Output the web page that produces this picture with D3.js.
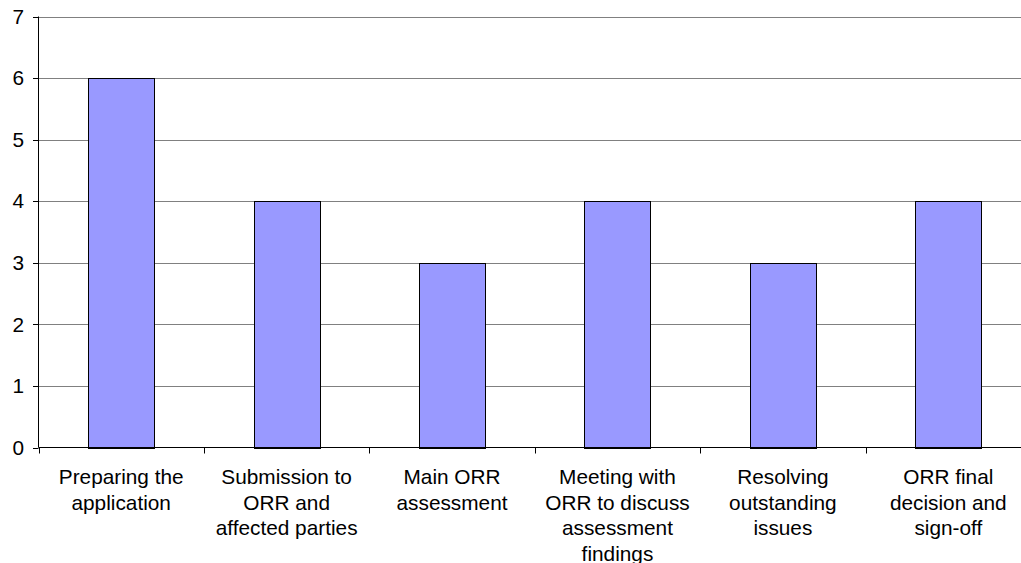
<!DOCTYPE html>
<html>
<head>
<meta charset="utf-8">
<script src="https://cdn.jsdelivr.net/npm/d3@7"></script>
<style>
  html, body { margin: 0; padding: 0; background: #fff; }
  svg { display: block; }
  text { font-family: "Liberation Sans", Arial, sans-serif; fill: #000; }
</style>
</head>
<body>
<svg id="chart" width="1021" height="563"></svg>
<script>
const categories = [
  "Preparing the application",
  "Submission to ORR and affected parties",
  "Main ORR assessment",
  "Meeting with ORR to discuss assessment findings",
  "Resolving outstanding issues",
  "ORR final decision and sign-off"
];
const labelLines = [
  ["Preparing the", "application"],
  ["Submission to", "ORR and", "affected parties"],
  ["Main ORR", "assessment"],
  ["Meeting with", "ORR to discuss", "assessment", "findings"],
  ["Resolving", "outstanding", "issues"],
  ["ORR final", "decision and", "sign-off"]
];
const values = [6, 4, 3, 4, 3, 4];
const yTicks = [0, 1, 2, 3, 4, 5, 6, 7];

(function () {
const svg = d3.select("#chart");
const pLeft = 38.5, pRight = 1031, pTop = 16.5, pBottom = 447.5;
const fs = "20.8px";

const x = d3.scaleBand().domain(categories).range([pLeft, pRight]).paddingInner(0.6).paddingOuter(0.3);
const xb = d3.scaleBand().domain(categories).range([pLeft, pRight]).padding(0);
const y = d3.scaleLinear().domain([0, 7]).range([pBottom, pTop]);

// gridlines
svg.append("g").selectAll("line").data(yTicks.filter(d => d > 0)).join("line")
  .attr("x1", pLeft).attr("x2", 1021)
  .attr("y1", d => Math.round(y(d)) + 0.5).attr("y2", d => Math.round(y(d)) + 0.5)
  .attr("stroke", "#808080").attr("stroke-width", 1);

// bars
svg.append("g").selectAll("rect").data(values).join("rect")
  .attr("x", (d, i) => Math.round(x(categories[i])) + 0.5)
  .attr("width", Math.round(x.bandwidth()))
  .attr("y", d => Math.round(y(d)) + 0.5)
  .attr("height", d => Math.round(pBottom) - Math.round(y(d)))
  .attr("fill", "#9999FF").attr("stroke", "#000").attr("stroke-width", 1);

// y axis
svg.append("line").attr("x1", pLeft).attr("x2", pLeft).attr("y1", pTop).attr("y2", pBottom)
  .attr("stroke", "#000");
svg.append("g").selectAll("line").data(yTicks).join("line")
  .attr("x1", 33).attr("x2", pLeft)
  .attr("y1", d => Math.round(y(d)) + 0.5).attr("y2", d => Math.round(y(d)) + 0.5)
  .attr("stroke", "#000");
svg.append("g").selectAll("text").data(yTicks).join("text")
  .attr("x", 24).attr("y", d => y(d)).attr("dy", "0.35em")
  .attr("text-anchor", "end").attr("font-size", fs)
  .text(d => d);

// x axis
svg.append("line").attr("x1", pLeft).attr("x2", 1021).attr("y1", pBottom).attr("y2", pBottom)
  .attr("stroke", "#000");
svg.append("g").selectAll("line").data(categories).join("line")
  .attr("x1", d => Math.round(xb(d)) + 0.5).attr("x2", d => Math.round(xb(d)) + 0.5)
  .attr("y1", pBottom).attr("y2", pBottom + 6)
  .attr("stroke", "#000");

const lab = svg.append("g").selectAll("text").data(categories).join("text")
  .attr("text-anchor", "middle").attr("font-size", fs)
  .attr("x", d => xb(d) + xb.bandwidth() / 2)
  .attr("y", 484);
lab.each(function (d, i) {
  const t = d3.select(this);
  labelLines[i].forEach((ln, j) => {
    t.append("tspan").attr("x", xb(d) + xb.bandwidth() / 2).attr("y", 484 + j * 25.5).text(ln);
  });
});
})();
</script>
</body>
</html>
